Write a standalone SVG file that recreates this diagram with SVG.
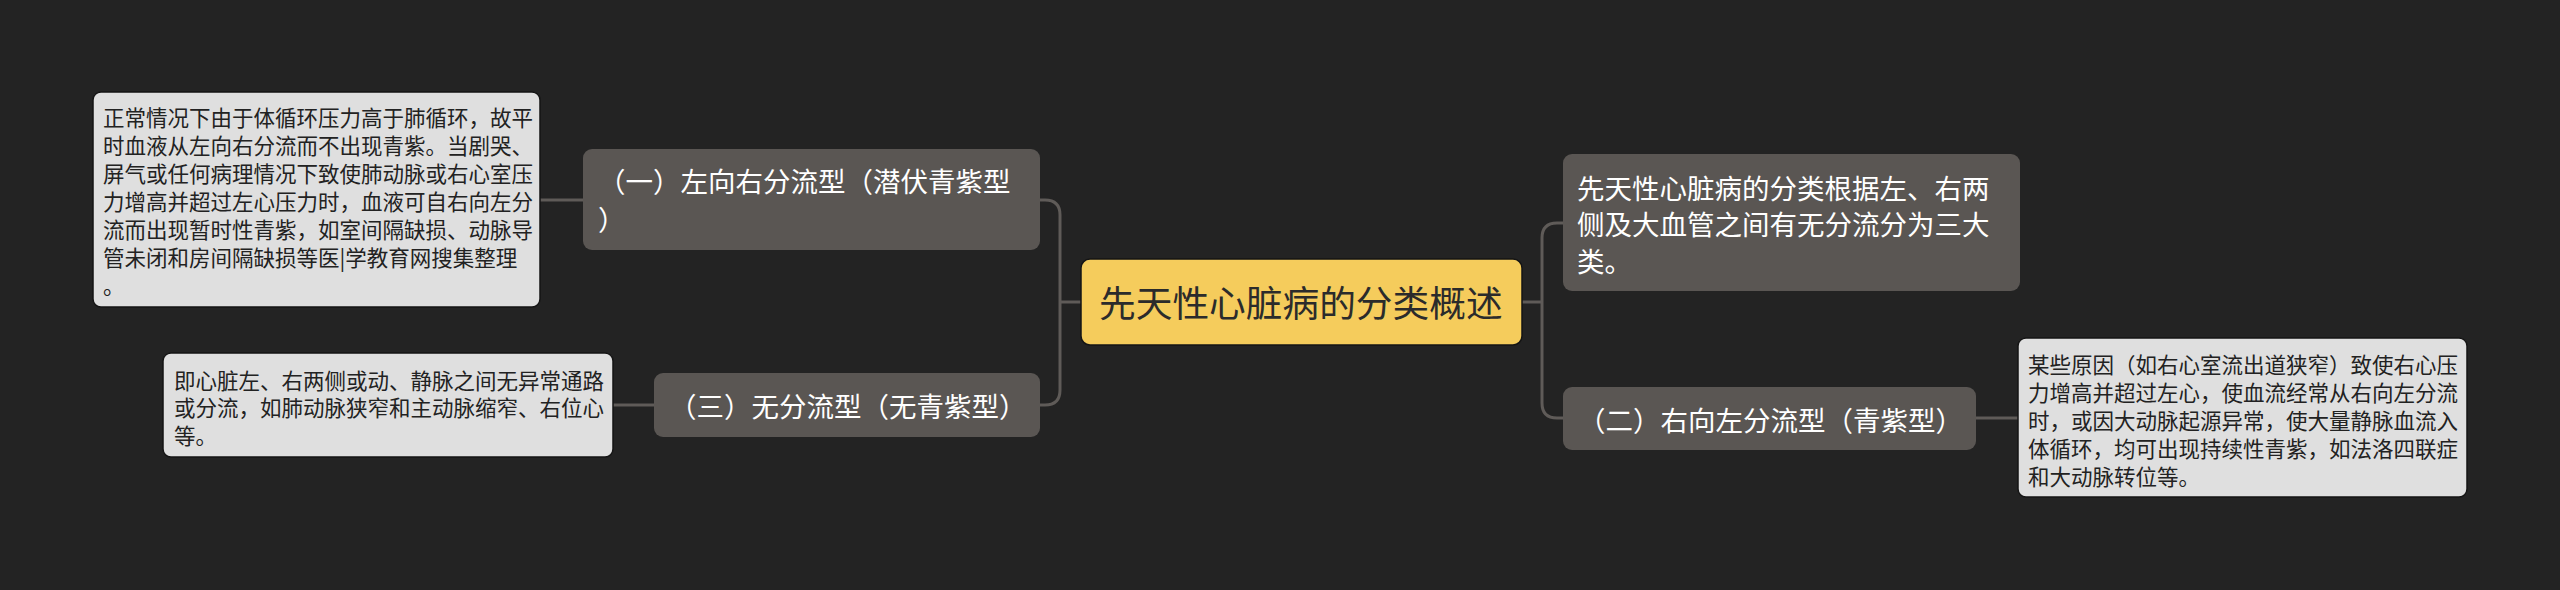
<svg xmlns="http://www.w3.org/2000/svg" width="2560" height="590" viewBox="0 0 2560 590">
<style>
.bg{fill:#232323}
.lnk{fill:none;stroke:#5f5b58;stroke-width:3}
.root rect{fill:#f5cc5c;stroke:#151515;stroke-width:1.5}
.root text{fill:#2b2b2b;font-size:36.7px}
.br rect{fill:#5a5653}
.br text{fill:#ffffff;font-size:27.5px}
.dt rect{fill:#dfdfdf;stroke:#151515;stroke-width:1.5}
.dt text{fill:#222222;font-size:21.5px}
text{font-family:"Noto Sans CJK SC","Noto Sans CJK TC",sans-serif}
</style>
<rect class="bg" x="0" y="0" width="2560" height="590"/>
<g id="connectors">
<path class="lnk" d="M1081,302 H1060"/>
<path class="lnk" d="M1040,200 H1045 Q1060,200 1060,215 V390 Q1060,405 1045,405 H1040"/>
<path class="lnk" d="M1522,302 H1542"/>
<path class="lnk" d="M1563,223 H1557 Q1542,223 1542,238 V403 Q1542,418 1557,418 H1563"/>
<path class="lnk" d="M540,200 H583"/>
<path class="lnk" d="M613,405 H654"/>
<path class="lnk" d="M1976,418 H2018"/>
</g>
<g id="root" class="root">
<rect x="1081" y="259" width="441" height="86" rx="9"/>
<text x="1099" y="317">先天性心脏病的分类概述</text>
</g>
<g id="b1" class="br">
<rect x="583" y="149" width="457" height="101" rx="9"/>
<text x="598" y="192">（一）左向右分流型（潜伏青紫型</text>
<text x="598" y="230">）</text>
</g>
<g id="b3" class="br">
<rect x="654" y="373" width="386" height="64" rx="9"/>
<text x="669" y="417">（三）无分流型（无青紫型）</text>
</g>
<g id="b0" class="br">
<rect x="1563" y="154" width="457" height="137" rx="9"/>
<text x="1577" y="198.5">先天性心脏病的分类根据左、右两</text>
<text x="1577" y="235">侧及大血管之间有无分流分为三大</text>
<text x="1577" y="271.5">类。</text>
</g>
<g id="b2" class="br">
<rect x="1563" y="387" width="413" height="63" rx="9"/>
<text x="1578" y="430.5">（二）右向左分流型（青紫型）</text>
</g>
<g id="d1" class="dt">
<rect x="93" y="92" width="447" height="215" rx="8"/>
<text x="103" y="125.5">正常情况下由于体循环压力高于肺循环，故平</text>
<text x="103" y="153.5">时血液从左向右分流而不出现青紫。当剧哭、</text>
<text x="103" y="181.5">屏气或任何病理情况下致使肺动脉或右心室压</text>
<text x="103" y="209.5">力增高并超过左心压力时，血液可自右向左分</text>
<text x="103" y="237.5">流而出现暂时性青紫，如室间隔缺损、动脉导</text>
<text x="103" y="265.5">管未闭和房间隔缺损等医|学教育网搜集整理</text>
<text x="103" y="293.5">。</text>
</g>
<g id="d3" class="dt">
<rect x="163" y="353" width="450" height="104" rx="8"/>
<text x="174" y="388.5">即心脏左、右两侧或动、静脉之间无异常通路</text>
<text x="174" y="416">或分流，如肺动脉狭窄和主动脉缩窄、右位心</text>
<text x="174" y="443.5">等。</text>
</g>
<g id="d2" class="dt">
<rect x="2018" y="338" width="449" height="159" rx="8"/>
<text x="2028" y="373">某些原因（如右心室流出道狭窄）致使右心压</text>
<text x="2028" y="401">力增高并超过左心，使血流经常从右向左分流</text>
<text x="2028" y="429">时，或因大动脉起源异常，使大量静脉血流入</text>
<text x="2028" y="457">体循环，均可出现持续性青紫，如法洛四联症</text>
<text x="2028" y="485">和大动脉转位等。</text>
</g>
</svg>
